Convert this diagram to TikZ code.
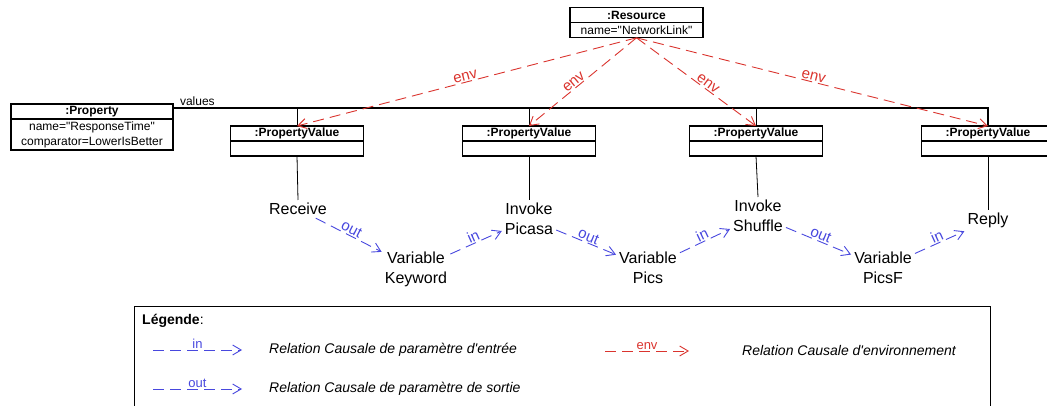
\documentclass[tikz,border=0pt]{standalone}
\usepackage{fontspec}
\setmainfont{Liberation Sans}[Ligatures=TeXOff]
\usetikzlibrary{positioning,arrows.meta}
\definecolor{inblue}{RGB}{72,72,222}
\definecolor{envred}{RGB}{218,52,46}

\begin{document}
\begin{tikzpicture}[
		x=1pt, y=-1pt,
		>={Straight Barb[length=8.5pt,width=10pt]},
		hdr/.style={draw, line width=1.1pt, minimum width=133pt, minimum height=15pt,
			inner sep=0pt, outer sep=0pt, font=\bfseries\fontsize{12}{14}\selectfont},
		bdy/.style={hdr, align=center, font=\fontsize{12}{15}\selectfont},
		act/.style={align=center, inner sep=3pt, anchor=north, font=\fontsize{16}{19.5}\selectfont},
		inrel/.style={->, color=inblue, line width=0.9pt, dash pattern=on 11pt off 6pt},
		envrel/.style={inrel, color=envred},
		rlab/.style={sloped, above, inner sep=1pt, font=\fontsize{15}{15}\selectfont},
		leglab/.style={above, inner sep=1pt, font=\fontsize{13}{13}\selectfont},
		legtxt/.style={anchor=west, inner sep=0pt, font=\itshape\fontsize{14}{16}\selectfont}
	]
  \useasboundingbox (0,0) rectangle (1047,406);

  % resource and property
  \node (reshdr) [hdr] at (636.5,15.3) {:Resource};
  \node (res) [bdy, below=0pt of reshdr] {name="NetworkLink"};
  \node (prophdr) [hdr, minimum width=162pt] at (92,111.5) {:Property};
  \node (prop) [bdy, minimum width=162pt, minimum height=31pt, below=0pt of prophdr]
    {name="ResponseTime"\\comparator=LowerIsBetter};

  % property values
  \foreach \i/\x in {1/297,2/529,3/756,4/988} {
    \node (pvhdr\i) [hdr] at (\x,133.5) {:PropertyValue};
    \node (pv\i) [bdy, below=0pt of pvhdr\i] {};
  }
  \coordinate (bus) at (988,108);
  \draw [line width=1.1pt] (prophdr.east |- bus)
    -- node[pos=0, anchor=south west, xshift=5pt, inner sep=1.5pt, font=\fontsize{12}{14}\selectfont] {values} (bus)
    -- (pvhdr4.north);
  \foreach \i in {1,2,3}
    \draw [line width=0.8pt] (pvhdr\i.north) -- (pvhdr\i.north |- bus);

  % activities and variables
  \node (receive) [act] at (298,200) {Receive};
  \node (picasa) [act] at (529,200) {Invoke\\Picasa};
  \node (shuffle) [act] at (758,197) {Invoke\\Shuffle};
  \node (reply) [act] at (988,210) {Reply};
  \node (keyword) [act] at (416,249) {Variable\\Keyword};
  \node (pics) [act] at (648,249) {Variable\\Pics};
  \node (picsf) [act] at (883,249) {Variable\\PicsF};

  \draw [line width=0.8pt] (pv1.south) -- (receive.north);
  \draw [line width=0.8pt] (pv2.south) -- (picasa.north);
  \draw [line width=0.8pt] (pv3.south) -- (shuffle.north);
  \draw [line width=0.8pt] (pv4.south) -- (reply.north);

  \draw [inrel] (receive) -- node[rlab] {out} (keyword);
  \draw [inrel] (keyword) -- node[rlab] {in} (picasa);
  \draw [inrel] (picasa) -- node[rlab] {out} (pics);
  \draw [inrel] (pics) -- node[rlab] {in} (shuffle);
  \draw [inrel] (shuffle) -- node[rlab] {out} (picsf);
  \draw [inrel] (picsf) -- node[rlab] {in} (reply);

  \foreach \i/\p in {1/0.5,2/0.55,3/0.57,4/0.5}
    \draw [envrel] (res.south) -- node[rlab, pos=\p] {env} (pvhdr\i.north);

  % legend
  \node (leg) [draw, line width=1pt, anchor=north west, inner sep=0pt,
    minimum width=856pt, minimum height=110pt] at (134,306) {};
  \node (legtitle) [anchor=west, inner sep=0pt, font=\fontsize{14}{16}\selectfont]
    at (142,321) {\textbf{Légende}:};
  \coordinate (in0) at (153,350);
  \coordinate (in1) at (242,350);
  \coordinate (out0) at (153,389);
  \coordinate (out1) at (242,389);
  \coordinate (env0) at (605,351);
  \coordinate (env1) at (689,351);
  \draw [inrel] (in0) -- node[leglab] {in} (in1);
  \draw [inrel] (out0) -- node[leglab] {out} (out1);
  \draw [envrel] (env0) -- node[leglab] {env} (env1);
  \node (intxt) [legtxt] at (269,350) {Relation Causale de paramètre d'entrée};
  \node (outtxt) [legtxt] at (269,389) {Relation Causale de paramètre de sortie};
  \node (envtxt) [legtxt] at (742,350) {Relation Causale d'environnement};
\end{tikzpicture}
\end{document}
